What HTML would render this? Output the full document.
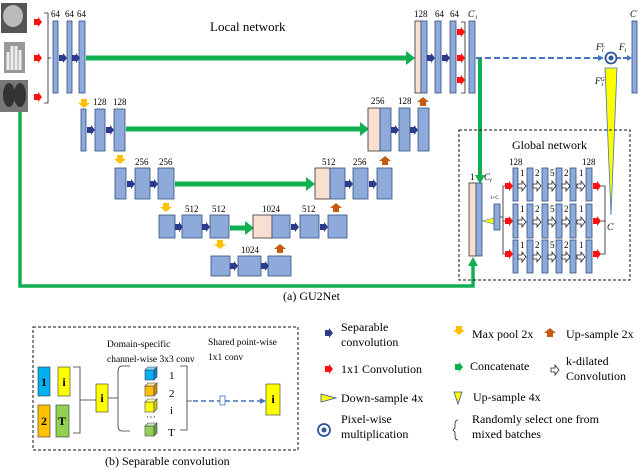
<!DOCTYPE html>
<html><head><meta charset="utf-8"><style>
html,body{margin:0;padding:0;background:#fff}
svg{display:block;font-family:"Liberation Serif",serif}
svg text{font-family:"Liberation Serif",serif}
.b{fill:#8eaadb;stroke:#33507e;stroke-width:.8}
.p{fill:#f8dfcf;stroke:#333;stroke-width:.8}
.t{font-size:9px}
.l{font-size:12px}
</style></head><body>
<svg width="640" height="468" viewBox="0 0 640 468">
<defs>
<polygon id="sa" points="0,-3 4,-3 4,-5 8,0 4,5 4,3 0,3" fill="#2e3a8c"/>
<polygon id="ra" points="0,-3 4,-3 4,-5 8,0 4,5 4,3 0,3" fill="#ff1010"/>
<polygon id="ga" points="0,-3 4,-3 4,-5 8,0 4,5 4,3 0,3" fill="#10b050"/>
<polygon id="ya" points="-3,0 3,0 3,4 6,4 0,9 -6,4 -3,4" fill="#ffc000"/>
<polygon id="oa" points="-3,9 3,9 3,5 6,5 0,0 -6,5 -3,5" fill="#c55a11"/>
<polygon id="ha" points="0,-2 4,-2 4,-5 8,0 4,5 4,2 0,2" fill="#fff" stroke="#222" stroke-width=".8"/>
</defs>

<rect x="1" y="3" width="26" height="30" fill="#555"/><ellipse cx="13" cy="16" rx="10" ry="11" fill="#bbb"/>
<rect x="4" y="42" width="21" height="31" fill="#999"/><path d="M8 70 L8 52 M12 70 L12 46 M16 70 L16 46 M20 70 L20 50" stroke="#eee" stroke-width="3"/>
<rect x="0" y="80" width="28" height="32" fill="#777"/><ellipse cx="9" cy="95" rx="6" ry="12" fill="#333"/><ellipse cx="20" cy="95" rx="6" ry="12" fill="#333"/>
<use href="#ra" x="34" y="22"/><use href="#ra" x="34" y="58"/><use href="#ra" x="34" y="97"/>
<path d="M44 13 H48 V103 H44 M48 58 H51" fill="none" stroke="#222" stroke-width=".8"/>

<g fill="#10b050">
<rect x="86" y="55.5" width="320" height="5"/><polygon points="406,51 415,58 406,65"/>
<rect x="126" y="126.5" width="234" height="5"/><polygon points="360,122 369,129 360,136"/>
<rect x="175" y="181.5" width="131" height="5"/><polygon points="306,177 315,184 306,191"/>
<rect x="230" y="225.5" width="15" height="5"/><polygon points="245,221 254,228 245,235"/>
<rect x="478" y="58" width="4" height="118"/><polygon points="475,175 485,175 480,184"/>
</g>
<path d="M20 112 V286 H473 V265" fill="none" stroke="#10b050" stroke-width="3.5"/>
<polygon points="468,266 478,266 473,257" fill="#10b050"/>

<rect class="b" x="53" y="21" width="5" height="72"/><rect class="b" x="67" y="21" width="5" height="72"/><rect class="b" x="79" y="21" width="6" height="72"/>
<use href="#sa" x="59" y="58"/><use href="#sa" x="72" y="58"/>
<text class="t" x="51" y="17">64</text><text class="t" x="65" y="17">64</text><text class="t" x="77" y="17">64</text>
<rect class="p" x="415" y="21" width="6" height="72"/><rect class="b" x="421" y="21" width="6" height="72"/>
<rect class="b" x="435" y="21" width="6" height="72"/><rect class="b" x="450" y="21" width="6" height="72"/>
<use href="#sa" x="427" y="58"/><use href="#sa" x="442" y="58"/>
<text class="t" x="414" y="17">128</text><text class="t" x="435" y="17">64</text><text class="t" x="450" y="17">64</text>
<use href="#ra" x="457" y="32"/><use href="#ra" x="457" y="58"/><use href="#ra" x="457" y="80"/>
<path d="M461 22 H465 V93 H461" fill="none" stroke="#222" stroke-width=".8"/>
<rect class="b" x="469" y="21" width="6" height="72"/>
<text class="t" x="468" y="17" font-style="italic">C<tspan font-size="6" dy="-3">′</tspan><tspan font-size="6" dy="5">i</tspan></text>
<path d="M476 58 H602" stroke="#4472c4" stroke-width="2" stroke-dasharray="6,3"/>
<polygon points="598,55 604,58 598,61" fill="#4472c4"/>
<circle cx="611" cy="58" r="5.5" fill="#fff" stroke="#2f5597" stroke-width="1.8"/><circle cx="611" cy="58" r="2.5" fill="#2f5597"/>
<path d="M617 58 H628" stroke="#4472c4" stroke-width="2" stroke-dasharray="4,2"/><polygon points="627,55 632,58 627,61" fill="#4472c4"/>
<rect class="b" x="632" y="21" width="5" height="72"/>
<text class="t" x="630" y="17" font-style="italic">C<tspan font-size="6" dy="-3">′</tspan></text>
<text class="t" x="596" y="50" font-style="italic">F<tspan font-size="6" dy="-3">L</tspan><tspan font-size="6" dx="-3" dy="5">i</tspan></text>
<text class="t" x="619" y="50" font-style="italic">F<tspan font-size="6" dy="2">i</tspan></text>
<text class="t" x="595" y="84" font-style="italic">F<tspan font-size="6" dy="-3">G</tspan><tspan font-size="6" dx="-3" dy="5">i</tspan></text>
<polygon points="605,68 617,68 611,215" fill="#ffff00" stroke="#4472c4" stroke-width=".8"/>
<text x="210" y="31" font-size="13">Local network</text>

<use href="#ya" x="84" y="99"/>
<rect class="b" x="81" y="109" width="5" height="42"/><rect class="b" x="95" y="109" width="10" height="42"/><rect class="b" x="114" y="109" width="11" height="42"/>
<use href="#sa" x="87" y="130"/><use href="#sa" x="106" y="130"/>
<text class="t" x="93" y="105">128</text><text class="t" x="113" y="105">128</text>
<rect class="p" x="368" y="108" width="12" height="43"/><rect class="b" x="380" y="108" width="11" height="43"/>
<rect class="b" x="399" y="108" width="11" height="43"/><rect class="b" x="418" y="108" width="11" height="43"/>
<use href="#sa" x="391" y="130"/><use href="#sa" x="410" y="130"/>
<use href="#oa" x="423" y="97"/>
<text class="t" x="371" y="104">256</text><text class="t" x="398" y="104">128</text>

<use href="#ya" x="120" y="155"/>
<rect class="b" x="115" y="168" width="11" height="31"/><rect class="b" x="135" y="168" width="15" height="31"/><rect class="b" x="158" y="168" width="16" height="31"/>
<use href="#sa" x="127" y="184"/><use href="#sa" x="150" y="184"/>
<text class="t" x="135" y="165">256</text><text class="t" x="159" y="165">256</text>
<rect class="p" x="315" y="168" width="15" height="31"/><rect class="b" x="330" y="168" width="15" height="31"/>
<rect class="b" x="353" y="168" width="15" height="31"/><rect class="b" x="377" y="168" width="15" height="31"/>
<use href="#sa" x="345" y="184"/><use href="#sa" x="369" y="184"/>
<use href="#oa" x="385" y="156"/>
<text class="t" x="322" y="165">512</text><text class="t" x="353" y="165">256</text>

<use href="#ya" x="166" y="203"/>
<rect class="b" x="159" y="215" width="16" height="23"/><rect class="b" x="182" y="215" width="20" height="23"/><rect class="b" x="210" y="215" width="19" height="23"/>
<use href="#sa" x="175" y="227"/><use href="#sa" x="202" y="227"/>
<text class="t" x="185" y="212">512</text><text class="t" x="212" y="212">512</text>
<rect class="p" x="253" y="215" width="19" height="23"/><rect class="b" x="272" y="215" width="18" height="23"/>
<rect class="b" x="300" y="215" width="19" height="23"/><rect class="b" x="328" y="215" width="19" height="23"/>
<use href="#sa" x="291" y="227"/><use href="#sa" x="320" y="227"/>
<use href="#oa" x="336" y="203"/>
<text class="t" x="262" y="212">1024</text><text class="t" x="302" y="212">512</text>

<use href="#ya" x="220" y="240"/>
<rect class="b" x="211" y="256" width="19" height="20"/><rect class="b" x="238" y="256" width="23" height="20"/><rect class="b" x="268" y="256" width="23" height="20"/>
<use href="#sa" x="230" y="266"/><use href="#sa" x="261" y="266"/>
<use href="#oa" x="280" y="244"/>
<text class="t" x="241" y="253">1024</text>

<rect x="459" y="130" width="171" height="150" fill="none" stroke="#111" stroke-width="1" stroke-dasharray="3,2"/>
<text x="512" y="149" font-size="12">Global network</text>
<rect class="p" x="469" y="183" width="7" height="73"/><rect class="b" x="476" y="183" width="6" height="73"/>
<text class="t" x="470" y="180">1</text><text class="t" x="484" y="180" font-style="italic">C<tspan font-size="6" dy="2">i</tspan></text>
<polygon points="482,221 494,218 494,224" fill="#ffff00" stroke="#4472c4" stroke-width=".6"/>
<text x="490" y="199" font-size="5">1+C</text>
<rect class="b" x="494" y="204" width="6" height="26"/>
<path d="M500 217 H503 M503 186 V254 M503 186 H507 M503 221 H507 M503 254 H507" stroke="#222" stroke-width=".8" fill="none"/>
<g>
<use href="#ra" x="505" y="186"/><use href="#ra" x="505" y="221"/><use href="#ra" x="505" y="254"/>
<use href="#ra" x="593" y="186"/><use href="#ra" x="593" y="221"/><use href="#ra" x="593" y="254"/>
</g>
<g class="b">
<rect x="513" y="168" width="5" height="33"/><rect x="527" y="168" width="6" height="33"/><rect x="542" y="168" width="6" height="33"/><rect x="556" y="168" width="6" height="33"/><rect x="570" y="168" width="6" height="33"/><rect x="586" y="168" width="6" height="33"/>
<rect x="513" y="204" width="5" height="34"/><rect x="527" y="204" width="6" height="34"/><rect x="542" y="204" width="6" height="34"/><rect x="556" y="204" width="6" height="34"/><rect x="570" y="204" width="6" height="34"/><rect x="586" y="204" width="6" height="34"/>
<rect x="513" y="240" width="5" height="33"/><rect x="527" y="240" width="6" height="33"/><rect x="542" y="240" width="6" height="33"/><rect x="556" y="240" width="6" height="33"/><rect x="570" y="240" width="6" height="33"/><rect x="586" y="240" width="6" height="33"/>
</g>
<g>
<use href="#ha" x="518" y="186"/><use href="#ha" x="533" y="186"/><use href="#ha" x="548" y="186"/><use href="#ha" x="562" y="186"/><use href="#ha" x="577" y="186"/>
<use href="#ha" x="518" y="222"/><use href="#ha" x="533" y="222"/><use href="#ha" x="548" y="222"/><use href="#ha" x="562" y="222"/><use href="#ha" x="577" y="222"/>
<use href="#ha" x="518" y="257"/><use href="#ha" x="533" y="257"/><use href="#ha" x="548" y="257"/><use href="#ha" x="562" y="257"/><use href="#ha" x="577" y="257"/>
</g>
<g class="t">
<text x="520" y="176">1</text><text x="535" y="176">2</text><text x="550" y="176">5</text><text x="564" y="176">2</text><text x="579" y="176">1</text>
<text x="520" y="212">1</text><text x="535" y="212">2</text><text x="550" y="212">5</text><text x="564" y="212">2</text><text x="579" y="212">1</text>
<text x="520" y="248">1</text><text x="535" y="248">2</text><text x="550" y="248">5</text><text x="564" y="248">2</text><text x="579" y="248">1</text>
<text x="509" y="165">128</text><text x="582" y="165">128</text>
</g>
<path d="M601 186 H605 V254 H601 M601 221 H605" stroke="#222" stroke-width=".8" fill="none"/>
<text class="t" x="607" y="230" font-style="italic">C<tspan font-size="6" dy="-3">′</tspan></text>

<text x="283" y="300" font-size="12">(a) GU2Net</text>

<rect x="33" y="327" width="265" height="123" fill="none" stroke="#111" stroke-width="1" stroke-dasharray="3,2"/>
<g font-weight="bold" font-size="12" text-anchor="middle">
<rect x="38" y="367" width="12" height="29" fill="#00b0f0" stroke="#333" stroke-width=".6"/><text x="44" y="386">1</text>
<rect x="58" y="367" width="12" height="29" fill="#ffff00" stroke="#333" stroke-width=".6"/><text x="64" y="386">i</text>
<rect x="38" y="405" width="12" height="32" fill="#ffc000" stroke="#333" stroke-width=".6"/><text x="44" y="425">2</text>
<rect x="56" y="405" width="13" height="32" fill="#92d050" stroke="#333" stroke-width=".6"/><text x="62" y="425">T</text>
<rect x="96" y="384" width="12" height="28" fill="#ffff00" stroke="#333" stroke-width=".6"/><text x="102" y="402">i</text>
<rect x="266" y="384" width="14" height="31" fill="#ffff00" stroke="#333" stroke-width=".6"/><text x="273" y="403">i</text>
</g>
<path d="M73 367 H80 V433 H73 M80 400 H96 M108 398 H118 M130 366 H122 Q118 366 118 372 V426 Q118 431 122 431 H130 M180 366 H187 V430 H180 M187 401 H192" stroke="#333" stroke-width=".8" fill="none"/>
<g stroke="#446" stroke-width=".6">
<rect x="145" y="370" width="9" height="10" fill="#00b0f0"/><polygon points="145,370 148,367 157,367 154,370" fill="#7fd6f6"/><polygon points="154,370 157,367 157,377 154,380" fill="#0080c0"/>
<rect x="145" y="386" width="9" height="10" fill="#ffc000"/><polygon points="145,386 148,383 157,383 154,386" fill="#ffe08a"/><polygon points="154,386 157,383 157,393 154,396" fill="#d09000"/>
<rect x="145" y="402" width="9" height="10" fill="#ffff00"/><polygon points="145,402 148,399 157,399 154,402" fill="#ffff9a"/><polygon points="154,402 157,399 157,409 154,412" fill="#d0d000"/>
<rect x="145" y="426" width="9" height="10" fill="#92d050"/><polygon points="145,426 148,423 157,423 154,426" fill="#c8e8a8"/><polygon points="154,426 157,423 157,433 154,436" fill="#70a030"/>
</g>
<text x="146" y="420" font-size="10">⋯</text>
<g font-size="11"><text x="169" y="379">1</text><text x="169" y="397">2</text><text x="170" y="414">i</text><text x="168" y="436">T</text></g>
<path d="M193 401 H262" stroke="#4472c4" stroke-width="1.5" stroke-dasharray="5,3"/>
<polygon points="260,398 266,401 260,404" fill="#4472c4"/>
<rect x="220" y="396" width="5" height="9" fill="#fff" stroke="#4472c4" stroke-width=".8"/>
<g font-size="9.5">
<text x="107" y="347">Domain-specific</text><text x="107" y="362">channel-wise 3x3 conv</text>
<text x="208" y="345">Shared point-wise</text><text x="208" y="360">1x1 conv</text>
</g>
<text x="105" y="465" font-size="12">(b) Separable convolution</text>

<use href="#sa" x="325" y="333"/>
<use href="#ya" x="459" y="326"/>
<use href="#oa" x="550" y="328"/>
<use href="#ra" x="325" y="369"/>
<use href="#ga" x="455" y="367"/>
<use href="#ha" x="551" y="370"/>
<polygon points="321,394 336,398 321,402" fill="#ffff00" stroke="#2f5597" stroke-width=".8"/>
<polygon points="454,392 462,392 458,404" fill="#ffff00" stroke="#2f5597" stroke-width=".8"/>
<circle cx="324" cy="430" r="6" fill="#fff" stroke="#2f5597" stroke-width="1.8"/><circle cx="324" cy="430" r="2.5" fill="#2f5597"/>
<path d="M458 420 Q455 420 455 424 V428 L453 430 L455 432 V436 Q455 440 458 440" fill="none" stroke="#222" stroke-width=".8"/>
<g class="l">
<text x="341" y="331">Separable</text><text x="341" y="346">convolution</text>
<text x="472" y="338">Max pool 2x</text>
<text x="566" y="338">Up-sample 2x</text>
<text x="341" y="373">1x1 Convolution</text>
<text x="470" y="370">Concatenate</text>
<text x="566" y="365">k-dilated</text><text x="566" y="380">Convolution</text>
<text x="341" y="402">Down-sample 4x</text>
<text x="473" y="401">Up-sample 4x</text>
<text x="341" y="423">Pixel-wise</text><text x="341" y="438">multiplication</text>
<text x="472" y="423">Randomly select one from</text><text x="472" y="438">mixed batches</text>
</g>
</svg>
</body></html>
